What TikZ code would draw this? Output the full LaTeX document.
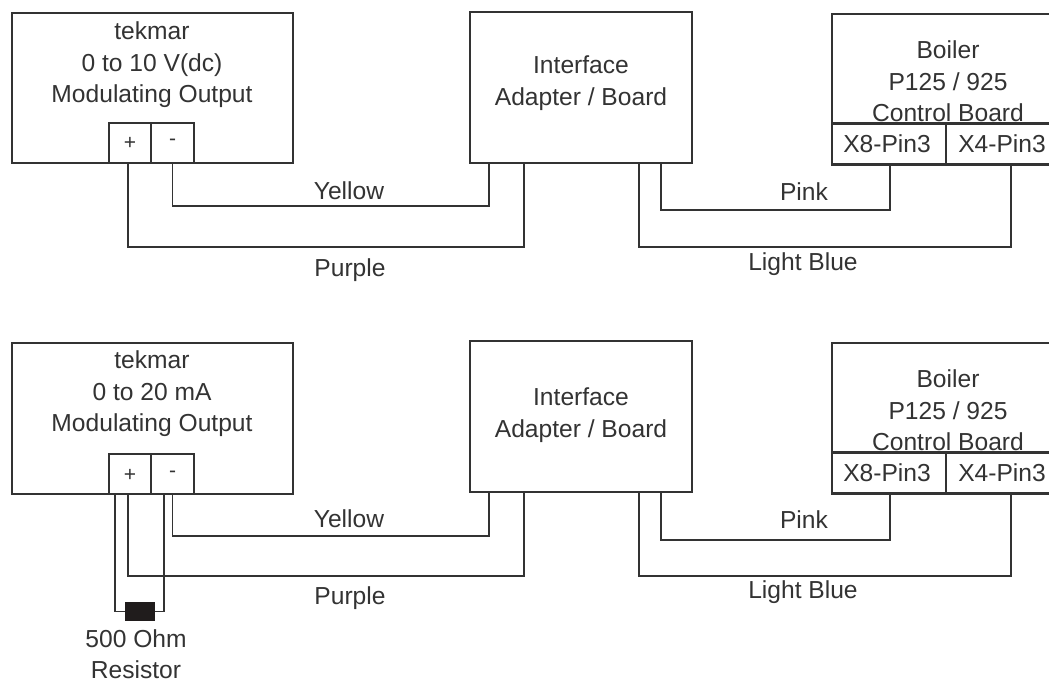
\documentclass[tikz,border=0pt]{standalone}
\usepackage{fontspec}
\setmainfont{Liberation Sans}
\definecolor{ink}{HTML}{333333}
\tikzset{
  box/.style={draw=ink,line width=2.2pt,rectangle,inner sep=0pt,fill=white},
  wire/.style={draw=ink,line width=1.9pt,line join=miter},
  lab/.style={text=ink,font=\fontsize{24.6}{31.5}\selectfont,align=center,inner sep=0pt},
  pin/.style={text=ink,font=\fontsize{24.6}{28}\selectfont,inner sep=0pt},
  sign/.style={text=ink,font=\fontsize{21}{25}\selectfont,inner sep=0pt},
}
\begin{document}
\begin{tikzpicture}[x=1pt,y=-1pt]
\useasboundingbox (0,0) rectangle (1049,679);
\clip (0,0) rectangle (1049,679);
% ---- top row
\node[box,minimum width=281pt,minimum height=150pt] (tek) at (152.5,88) {};
\node[lab] (tektxt) at (152,65) {tekmar\\0 to 10 V(dc)\\Modulating Output};
\node[box,minimum width=42pt,minimum height=40pt] (tp) at (130,143) {};
\node[box,minimum width=43pt,minimum height=40pt] (tm) at (172.5,143) {};
\node[sign] (tpl) at (130,143) {+};
\node[sign] (tml) at (172.5,142) {-};
\node[box,minimum width=222pt,minimum height=151pt] (ifa) at (581,87.5) {};
\node[lab] (ifatxt) at (581,83) {Interface\\Adapter / Board};
\node[box,minimum width=232pt,minimum height=150pt] (boi) at (948,89) {};
\node[lab] (boitxt) at (948,81.5) {Boiler\\P125 / 925\\Control Board};
\node[box,minimum width=114pt,minimum height=41pt] (x8) at (889,144) {};
\node[box,minimum width=118pt,minimum height=41pt] (x4) at (1005,144) {};
\node[pin] (x8t) at (887,144) {X8-Pin3};
\node[pin] (x4t) at (1002,144) {X4-Pin3};
\coordinate (a1) at (489,163);
\coordinate (a2) at (524,163);
\coordinate (a3) at (639,163);
\coordinate (a4) at (661,163);
\draw[wire] (tm.south) |- (489,206) -- (a1);
\draw[wire] ([xshift=-2pt]tp.south) |- (524,247) -- (a2);
\draw[wire] (a4) |- (890,210) -- (890,164.5);
\draw[wire] (a3) |- (1011,247) -- (1011,164.5);
\node[pin] (ly) at (349,191) {Yellow};
\node[pin] (lp) at (350,270) {Purple};
\node[pin] (lk) at (804,192) {Pink};
\node[pin] (lb) at (803,264) {Light Blue};
% ---- bottom row
\node[box,minimum width=281pt,minimum height=151pt] (tekb) at (152.5,418.5) {};
\node[lab] (tekbtxt) at (152,394) {tekmar\\0 to 20 mA\\Modulating Output};
\node[box,minimum width=42pt,minimum height=40pt] (tpb) at (130,474) {};
\node[box,minimum width=43pt,minimum height=40pt] (tmb) at (172.5,474) {};
\node[sign] (tpbl) at (130,475) {+};
\node[sign] (tmbl) at (172.5,474) {-};
\node[box,minimum width=222pt,minimum height=151pt] (ifb) at (581,416.5) {};
\node[lab] (ifbtxt) at (581,415) {Interface\\Adapter / Board};
\node[box,minimum width=232pt,minimum height=150pt] (bob) at (948,418) {};
\node[lab] (bobtxt) at (948,410.5) {Boiler\\P125 / 925\\Control Board};
\node[box,minimum width=114pt,minimum height=41pt] (x8b) at (889,473) {};
\node[box,minimum width=118pt,minimum height=41pt] (x4b) at (1005,473) {};
\node[pin] (x8bt) at (887,473) {X8-Pin3};
\node[pin] (x4bt) at (1002,473) {X4-Pin3};
\coordinate (b1) at (489,492);
\coordinate (b2) at (524,492);
\coordinate (b3) at (639,492);
\coordinate (b4) at (661,492);
\draw[wire] (tmb.south) |- (489,536) -- (b1);
\draw[wire] ([xshift=-2pt]tpb.south) |- (524,576) -- (b2);
\draw[wire] (b4) |- (890,540) -- (890,493.5);
\draw[wire] (b3) |- (1011,576) -- (1011,493.5);
\node[draw=none,fill={rgb,255:red,32;green,28;blue,28},minimum width=30pt,minimum height=19pt,inner sep=0pt] (res) at (140,611.5) {};
\draw[wire] ([xshift=-15pt]tpb.south) |- (res.west);
\draw[wire] ([xshift=-8.5pt]tmb.south) |- (res.east);
\node[pin] (ly2) at (349,519) {Yellow};
\node[pin] (lp2) at (350,598) {Purple};
\node[pin] (lk2) at (804,520) {Pink};
\node[pin] (lb2) at (803,592) {Light Blue};
\node[lab] (restxt) at (136,654) {500 Ohm\\Resistor};
\end{tikzpicture}
\end{document}
